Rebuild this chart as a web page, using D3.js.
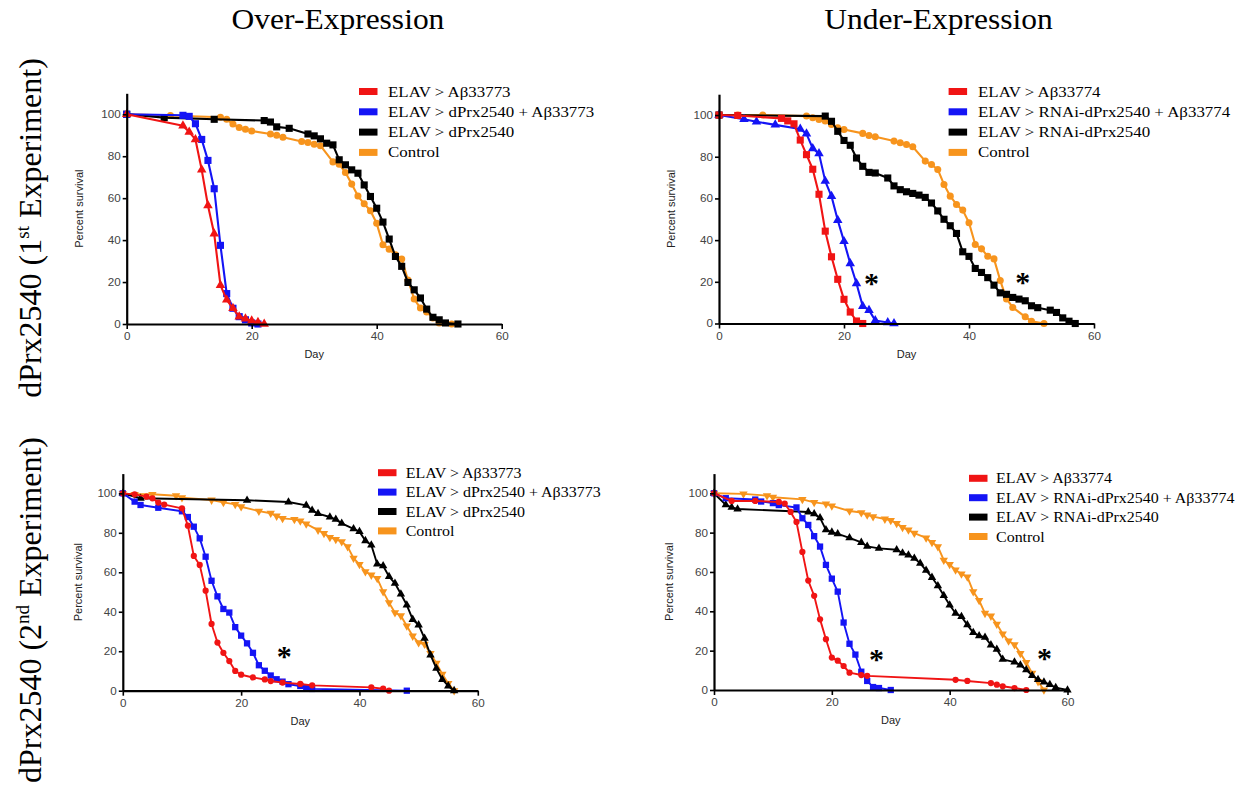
<!DOCTYPE html>
<html><head><meta charset="utf-8">
<script src="https://cdn.jsdelivr.net/npm/d3@7"></script>
<style>body{margin:0;background:#fff}svg{display:block}</style>
</head><body>
<svg id="c" width="1247" height="791"></svg>
<script>
// ---------- DATA ----------
const xTicks = [0, 20, 40, 60];
const yTicks = [0, 20, 40, 60, 80, 100];
const colTitles = ["Over-Expression", "Under-Expression"];
const legendOver1 = ["ELAV > Aβ33773", "ELAV > dPrx2540 + Aβ33773", "ELAV > dPrx2540", "Control"];
const legendUnder1 = ["ELAV > Aβ33774", "ELAV > RNAi-dPrx2540 + Aβ33774", "ELAV > RNAi-dPrx2540", "Control"];

// Panel 1: Over-expression, 1st experiment  [day, percent survival]
const p1Red = [[0,100],[9,94.5],[10,91.5],[11,88],[12,73.5],[13,56.5],[14,43],[15,18.5],[16,11.5],[17,7.5],[18,3.5],[19,2.5],[20,1.5],[21,0.8],[22,0]];
const p1Blue = [[0,100],[9,99.5],[10,99],[11,95.5],[12,88],[13,78],[14,64.5],[15,37.5],[16,14.5],[17,7.5],[18,3.5],[19,2],[20,0.5],[21,0]];
const p1Black = [[0,100],[6,98.4],[14,97.6],[22,97],[23,96.3],[24,94],[26,93.3],[29,90.6],[30,89.7],[31,88.3],[32,86.2],[33,85.4],[34,78.3],[35,75.9],[36,73.5],[37,71.9],[38,66.3],[39,60.8],[40,55.2],[41,48.6],[42,40.5],[43,32.2],[44,27.5],[45,19.8],[46,16.3],[47,12.4],[48,7.1],[49,3.2],[50,2],[51,0.5],[53,0]];
const p1Orange = [[0,100],[7,99.4],[15,98.6],[16,97.6],[17,95.4],[18,93.7],[19,92.9],[20,92],[23,90.6],[24,90],[25,89],[28,87],[29,86.5],[30,85.7],[31,85],[33,77.3],[34,76.2],[35,72.2],[36,66.7],[37,61],[38,57.3],[39,54],[40,48],[41,37.8],[42,35.7],[43,33],[44,31],[45,21],[46,11.9],[47,7.6],[48,5.7],[49,2.9],[50,0.5],[52,0]];

// Panel 2: Under-expression, 1st experiment
const p2Red = [[0,100],[3,99.8],[10,98.4],[11,97.2],[12,95.8],[13,88],[14,81],[15,74],[16,62],[17,44.3],[18,32],[19,21.2],[20,11.6],[21,5.5],[22,1.2],[23,0]];
const p2Blue = [[0,100],[4,98],[6,96.8],[9,95.3],[13,93.3],[14,91],[15,84],[16,81.5],[17,68.3],[18,61],[19,49.5],[20,39.4],[21,28.8],[22,19.2],[23,8.3],[24,6.4],[25,1.4],[27,0.5],[28,0]];
const p2Black = [[0,100],[17,99.5],[18,97],[19,92.2],[20,87.8],[21,85.5],[22,79.4],[23,75.4],[24,72.5],[25,72.2],[27,69.8],[28,66],[29,64.2],[30,63.2],[31,62.4],[32,61.6],[33,60.5],[34,57.8],[35,54],[36,50],[37,46.9],[38,43.2],[39,34.4],[40,32.2],[41,26.4],[42,24.5],[43,22],[44,18.4],[45,14.7],[46,14],[47,12.5],[48,11.7],[49,10.9],[50,8.5],[51,7.6],[53,6.4],[54,5.3],[55,2.7],[56,1.1],[57,0]];
const p2Orange = [[0,100],[3,100],[7,100],[14,99.5],[15,98.7],[16,97.9],[17,97.1],[18,95.5],[19,93.9],[20,93.1],[23,91.2],[24,90.2],[25,89.6],[28,87.5],[29,86.7],[30,85.9],[31,84.8],[33,77.9],[34,76.3],[35,73.9],[36,66.7],[37,61.1],[38,57.1],[39,54.4],[40,48.3],[41,37.9],[42,35.8],[43,32.3],[44,31],[45,20.6],[46,11.8],[47,7.7],[49,3.2],[50,1.1],[52,0]];

// Panel 3: Over-expression, 2nd experiment
const p3Red = [[0,100],[2,99.5],[4,98.3],[5,97.5],[6,95.3],[7,94.3],[10,92.4],[11,83.6],[12,68.3],[13,63.7],[14,50.7],[15,33.8],[16,24.4],[17,19.2],[18,15],[19,10],[20,8.1],[22,6.7],[24,5.7],[25,4.9],[27,4.1],[30,3.4],[32,2.7],[42,1.7],[44,1],[45,0]];
const p3Blue = [[0,100],[2,95.8],[3,94.1],[6,92.7],[10,90.9],[11,88],[12,83.1],[13,77.2],[14,67.9],[15,55.7],[16,47.8],[17,41.4],[18,39.6],[19,32.2],[20,27.9],[21,24],[22,19.2],[23,12.9],[24,10.1],[25,7.7],[26,5.8],[27,4.6],[28,3.3],[30,2.4],[31,1.8],[32,0.9],[48,0]];
const p3Black = [[0,100],[3,97.5],[21,96.5],[28,95.6],[31,93.9],[32,91.4],[33,89.7],[35,88],[36,86.8],[37,84.8],[39,82],[40,80.6],[41,76],[42,73.8],[43,64.2],[44,63.3],[45,57.8],[46,54.4],[47,49],[48,43.4],[49,36.1],[50,33.3],[51,26.5],[52,18.1],[53,11.3],[54,5.7],[55,2.4],[56,0]];
const p3Orange = [[0,100],[2,99.5],[5,99.5],[9,98.8],[10,97.8],[15,96.6],[17,95.4],[19,94.4],[20,93.2],[23,91],[25,89.9],[26,88.5],[27,87.3],[29,86.8],[30,86],[31,84.5],[33,81.4],[34,79.7],[35,77.7],[36,76.7],[37,75.5],[38,73],[39,67.1],[40,64],[41,60.3],[42,58.6],[43,56.9],[44,50.2],[45,44.6],[46,39.5],[47,38],[48,32.8],[49,27.7],[50,24.3],[51,23.6],[52,18.9],[53,13.9],[54,8.4],[55,3.7],[56,0]];

// Panel 4: Under-expression, 2nd experiment
const p4Red = [[0,100],[3,96.1],[7,96.1],[11,95.6],[12,94.8],[13,90.5],[14,85.4],[15,70.2],[16,55.6],[17,47.9],[18,35.9],[19,25.8],[20,16.5],[21,14.9],[22,12.2],[23,8.8],[25,7.6],[26,7.2],[41,5.2],[43,4.6],[47,3.5],[48,2.7],[49,1.9],[51,1],[53,0]];
const p4Blue = [[0,100],[2,97.5],[7,96.8],[8,95.8],[10,95],[11,94],[14,92.8],[15,87.3],[16,83.9],[17,78.2],[18,72.9],[19,63.6],[20,56.6],[21,50],[22,34.3],[23,23.5],[24,18],[25,9.3],[26,4.6],[27,1.5],[28,1],[30,0]];
const p4Black = [[0,100],[2,94.1],[3,92.8],[4,92],[16,90.5],[17,89.5],[18,87.5],[19,81.4],[20,80.2],[21,79.4],[23,77.3],[25,75],[26,73],[28,72],[31,71.3],[32,69.6],[33,68.6],[34,66.9],[35,64.4],[36,60.8],[37,57.2],[38,53],[39,48],[40,43.2],[41,39],[42,37.3],[43,33.1],[44,29.2],[45,27.5],[46,26.8],[47,22.9],[48,20.7],[49,15.6],[51,14.2],[52,12.7],[53,10.2],[54,7.3],[55,5.3],[56,4],[57,2.7],[58,1.2],[60,0]];
const p4Orange = [[0,100],[5,99.7],[9,98.8],[10,98],[15,96.9],[17,95.4],[19,94.6],[20,93.6],[23,91],[25,90.2],[26,89],[27,88.1],[29,86.9],[30,86.2],[31,84.7],[32,82.7],[33,81.4],[34,79.7],[36,77.3],[37,75],[38,72.9],[39,66],[40,63.8],[41,61],[42,59],[43,57.5],[44,50],[45,45.5],[46,39],[47,37.6],[48,33.5],[49,28.5],[50,25],[51,23],[52,18.6],[53,14],[54,8.5],[55,4.3],[56,0]];

// significance marks [day, percent]
const p2Stars = [[24.4,20.9],[48.6,21.4]];
const p3Stars = [[27.3,19.1]];
const p4Stars = [[27.6,17.3],[56.1,17.8]];

// ---------- STYLE / LAYOUT ----------
const COL = {red:"#f01414", blue:"#1414f5", black:"#000000", orange:"#f7941d"};
const serif = "'Liberation Serif','Times New Roman',serif";
const sans = "'Liberation Sans',Arial,sans-serif";

const panels = [
  {x0:126.7, x1:501.7, yTop:93.3, y0:324, labX:78.6, lw:2.1, ms:1.15,
   legend:{names:legendOver1, sx:359, tx:388, y:91.5, dy:20.3, fs:15.5, sc:1.09},
   series:[{d:p1Orange,c:"orange",m:"circle"},{d:p1Black,c:"black",m:"square"},{d:p1Blue,c:"blue",m:"square"},{d:p1Red,c:"red",m:"triangle"}],
   stars:[]},
  {x0:719, x1:1094, yTop:94.2, y0:323.5, labX:671, lw:2.1, ms:1.15,
   legend:{names:legendUnder1, sx:948.6, tx:978, y:91.5, dy:20.3, fs:15.5, sc:1.09},
   series:[{d:p2Orange,c:"orange",m:"circle"},{d:p2Black,c:"black",m:"square"},{d:p2Blue,c:"blue",m:"triangle"},{d:p2Red,c:"red",m:"square"}],
   stars:p2Stars},
  {x0:122.8, x1:477.8, yTop:473.6, y0:690.7, labX:77.9, lw:1.9, ms:0.9,
   legend:{names:legendOver1, sx:378, tx:405.7, y:472.7, dy:19.4, fs:15, sc:1.065},
   series:[{d:p3Orange,c:"orange",m:"tridown"},{d:p3Black,c:"black",m:"triangle"},{d:p3Blue,c:"blue",m:"square"},{d:p3Red,c:"red",m:"circle"}],
   stars:p3Stars},
  {x0:714, x1:1067.5, yTop:473.6, y0:690, labX:669.2, lw:1.9, ms:0.9,
   legend:{names:legendUnder1, sx:969, tx:996, y:478.3, dy:19.4, fs:15, sc:1.065},
   series:[{d:p4Orange,c:"orange",m:"tridown"},{d:p4Black,c:"black",m:"triangle"},{d:p4Blue,c:"blue",m:"square"},{d:p4Red,c:"red",m:"circle"}],
   stars:p4Stars}
];

const svg = d3.select("#c");

function stext(parent, x, y, str, fs, sc, anchor, family, weight, fill){
  return parent.append("text")
    .attr("transform", `translate(${x},${y}) scale(${sc},1)`)
    .attr("text-anchor", anchor || "start")
    .attr("font-family", family || serif)
    .attr("font-size", fs)
    .attr("font-weight", weight || "normal")
    .attr("fill", fill || "#000")
    .text(str);
}

// column titles
stext(svg, 338, 29, colTitles[0], 30, 1.05, "middle");
stext(svg, 938.5, 29, colTitles[1], 30, 1.05, "middle");

// row labels
function rowLabel(cy, num, sup){
  const t = svg.append("text")
    .attr("transform", `translate(41,${cy}) rotate(-90)`)
    .attr("text-anchor", "middle")
    .attr("font-family", serif).attr("font-size", 32).attr("fill", "#000");
  t.append("tspan").text("dPrx2540 (" + num);
  t.append("tspan").attr("font-size", 19).attr("dy", -12).text(sup);
  t.append("tspan").attr("dy", 12).text(" Experiment)");
}
rowLabel(228, "1", "st");
rowLabel(610, "2", "nd");

const symType = {circle:d3.symbolCircle, square:d3.symbolSquare, triangle:d3.symbolTriangle, tridown:d3.symbolTriangle};
const symSize = {circle:34, square:44, triangle:34, tridown:34};

panels.forEach(p => {
  const g = svg.append("g");
  const x = d3.scaleLinear().domain([0, 60]).range([p.x0, p.x1]);
  const y = d3.scaleLinear().domain([0, 110]).range([p.y0, p.yTop]);

  // series
  p.series.forEach(s => {
    const col = COL[s.c];
    g.append("path").datum(s.d)
      .attr("fill", "none").attr("stroke", col).attr("stroke-width", p.lw)
      .attr("stroke-linejoin", "round")
      .attr("d", d3.line().x(d => x(d[0])).y(d => y(d[1])));
    const sym = d3.symbol().type(symType[s.m]).size(symSize[s.m] * p.ms);
    g.selectAll(null).data(s.d).enter().append("path")
      .attr("d", sym)
      .attr("fill", col)
      .attr("transform", d => `translate(${x(d[0])},${y(d[1])})` + (s.m === "tridown" ? " rotate(180)" : ""));
  });

  // axes
  const ax = g.append("g").attr("transform", `translate(0,${p.y0})`)
    .call(d3.axisBottom(x).tickValues(xTicks).tickSize(5).tickSizeOuter(0).tickPadding(3.5));
  const ay = g.append("g").attr("transform", `translate(${p.x0},0)`)
    .call(d3.axisLeft(y).tickValues(yTicks).tickSize(4).tickSizeOuter(0).tickPadding(2));
  [ax, ay].forEach(a => {
    a.select(".domain").attr("stroke", "#000").attr("stroke-width", 2.2);
    a.selectAll(".tick line").attr("stroke", "#000").attr("stroke-width", 1.6);
    a.selectAll(".tick text").attr("font-family", sans).attr("font-size", 10.6).attr("fill", "#444");
  });
  ay.selectAll(".tick text").attr("x", -6 / 1.1).attr("transform", "scale(1.1,1)");
  ax.selectAll(".tick text").attr("transform", "scale(1.1,1)");

  // axis titles
  g.append("text").attr("x", (p.x0 + p.x1) / 2).attr("y", p.y0 + 34)
    .attr("text-anchor", "middle").attr("font-family", sans).attr("font-size", 11).attr("fill", "#222").text("Day");
  g.append("text").attr("transform", `translate(${p.labX},${(p.yTop + p.y0) / 2}) rotate(-90)`)
    .attr("text-anchor", "middle").attr("dominant-baseline", "central")
    .attr("font-family", sans).attr("font-size", 11).attr("fill", "#222").text("Percent survival");

  // legend
  const L = p.legend;
  const order = ["red", "blue", "black", "orange"];
  L.names.forEach((nm, i) => {
    const cy = L.y + i * L.dy;
    g.append("rect").attr("x", L.sx).attr("y", cy - 3.5).attr("width", 18.5).attr("height", 7).attr("fill", COL[order[i]]);
    stext(g, L.tx, cy + 5, nm, L.fs, L.sc, "start");
  });

  // significance stars
  p.stars.forEach(s => {
    stext(g, x(s[0]), y(s[1]) + 13, "*", 30, 1, "middle", serif, "bold");
  });
});
</script>
</body></html>
